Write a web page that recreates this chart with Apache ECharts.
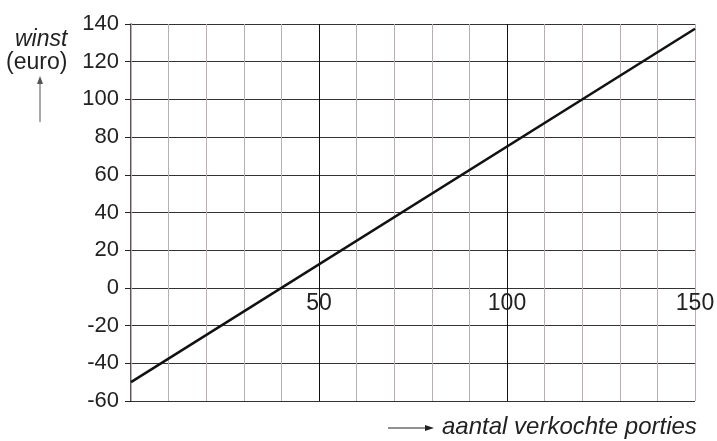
<!DOCTYPE html>
<html>
<head>
<meta charset="utf-8">
<script src="https://cdn.jsdelivr.net/npm/echarts@6/dist/echarts.min.js"></script>
<style>
  html, body { margin: 0; padding: 0; background: #fff; }
  #chart { width: 717px; height: 441px; }
</style>
</head>
<body>
<div id="chart"></div>
<script>
// winst = 1.25 * porties - 50
var porties = [0, 150];
var winst = [-50, 137.5];
var xLabels = [50, 100, 150];
var yTicks = [-60, -40, -20, 0, 20, 40, 60, 80, 100, 120, 140];

var FONT = '"Liberation Sans", Arial, sans-serif';
var myChart = echarts.init(document.getElementById('chart'));

var lineData = [];
for (var i = 0; i < porties.length; i++) {
	lineData.push([porties[i], winst[i]]);
}
// x tick labels sit on the winst = 0 line
var xLabelData = [];
for (i = 0; i < xLabels.length; i++) {
	xLabelData.push([xLabels[i], 0]);
}

var options = {
	animation: false,
	grid: { left: 131, right: 22, top: 24, bottom: 40 },
	xAxis: [
		{
			// major grid, every 50
			type: 'value', min: 0, max: 150, interval: 50,
			axisLine: { show: false, onZero: false },
			axisTick: { show: false },
			axisLabel: { show: false },
			splitLine: { show: true, showMinLine: false, showMaxLine: false, lineStyle: { color: '#111', width: 1 } },
			z: 3
		},
		{
			// minor grid, every 10
			type: 'value', min: 0, max: 150, interval: 10,
			axisLine: { show: false, onZero: false },
			axisTick: { show: false },
			axisLabel: { show: false },
			splitLine: { show: true, lineStyle: { color: '#bcaeae', width: 1 } },
			z: 1
		}
	],
	yAxis: {
		type: 'value', min: yTicks[0], max: yTicks[yTicks.length - 1], interval: 20,
		axisLine: { show: true, onZero: false, lineStyle: { color: '#222', width: 1.5 } },
		axisTick: { show: true, length: 6, lineStyle: { color: '#222' } },
		axisLabel: { fontFamily: FONT, fontSize: 22, color: '#222', margin: 12 },
		splitLine: { show: true, lineStyle: { color: '#333', width: 1 } }
	},
	graphic: [
		{ type: 'text', left: 15, top: 28, style: { text: 'winst', font: 'italic 23px ' + FONT, fill: '#222' } },
		{ type: 'text', left: 6, top: 51, style: { text: '(euro)', font: '23px ' + FONT, fill: '#222' } },
		{ type: 'line', shape: { x1: 40, y1: 122, x2: 40, y2: 80 }, style: { stroke: '#555', lineWidth: 1 } },
		{ type: 'polygon', shape: { points: [[40, 76], [37, 84], [43, 84]] }, style: { fill: '#555' } },
		{ type: 'line', shape: { x1: 388, y1: 428, x2: 428, y2: 428 }, style: { stroke: '#222', lineWidth: 1 } },
		{ type: 'polygon', shape: { points: [[434, 428], [425, 425], [425, 431]] }, style: { fill: '#222' } },
		{ type: 'text', left: 442, top: 415, style: { text: 'aantal verkochte porties', font: 'italic 24px ' + FONT, fill: '#222' } }
	],
	series: [
		{
			type: 'line', xAxisIndex: 0, data: lineData, symbol: 'none',
			lineStyle: { color: '#111', width: 2.5 }, z: 5
		},
		{
			type: 'scatter', xAxisIndex: 0, data: xLabelData, symbolSize: 0, silent: true,
			itemStyle: { opacity: 1 },
			label: {
				show: true, position: 'bottom', distance: 4,
				fontFamily: FONT, fontSize: 23, color: '#222',
				formatter: function(p) { return String(p.value[0]); }
			},
			z: 6
		}
	]
};

myChart.setOption(options);
</script>
</body>
</html>
